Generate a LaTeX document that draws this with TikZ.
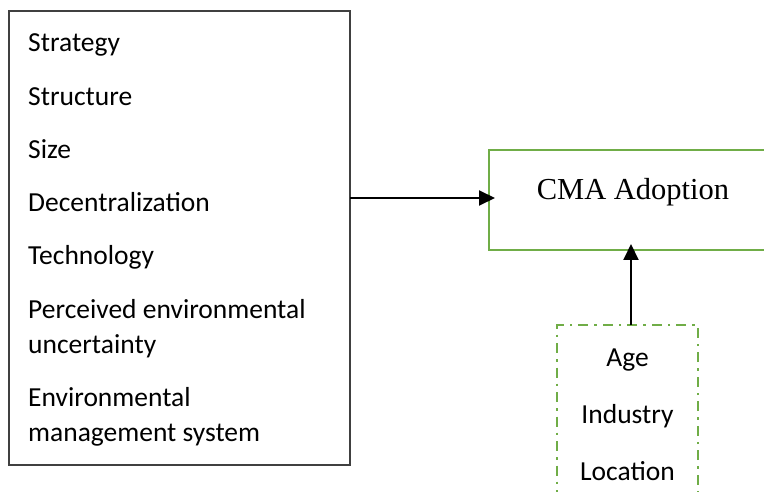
\documentclass[tikz,border=0pt]{standalone}
\usepackage{fontspec}
\setmainfont{Carlito}
\newfontfamily\serifcma{Liberation Serif}
\usepackage{xcolor}
\usepackage{tikz}
\usetikzlibrary{arrows.meta,positioning}
\definecolor{boxgreen}{HTML}{70AD47}

\begin{document}
\begin{tikzpicture}[x=1pt,y=-1pt,
  factorbox/.style={draw=black!75,line width=1.4pt,minimum width=341pt,minimum height=454pt,inner sep=0pt,outer sep=0pt},
  item/.style={anchor=base west,inner sep=0pt,align=left,font=\fontsize{27.5}{35}\selectfont},
  ctrlitem/.style={anchor=base,inner sep=0pt,font=\fontsize{27.5}{35}\selectfont},
  adoptbox/.style={draw=boxgreen,line width=2pt,minimum width=288pt,minimum height=100pt,inner sep=0pt,outer sep=0pt},
  ctrlbox/.style={draw=boxgreen,line width=2pt,dash pattern=on 10pt off 6pt on 2.5pt off 6pt,minimum width=141pt,minimum height=190pt,inner sep=0pt,outer sep=0pt},
  link/.style={line width=2pt,-{Triangle[length=16pt,width=15pt]},shorten >=-6pt}]
\useasboundingbox (0,0) rectangle (764,492);
\clip (0,0) rectangle (764,492);
%%the box of factors on the left
\node[factorbox] (factors) at (179.5,238) {};
\node[item] (strategy) at (28,52) {Strategy};
\node[item] (structure) at (28,106) {Structure};
\node[item] (size) at (28,159) {Size};
\node[item] (decentral) at (28,212) {Decentralization};
\node[item] (technology) at (28,265) {Technology};
%%two-line items sit on the baseline of their last line
\node[item] (peu) at (28,353) {Perceived environmental\\uncertainty};
\node[item] (ems) at (28,441) {Environmental\\management system};
%%the adoption box
\node[adoptbox] (cma) at (633,200) {};
\node[anchor=base,inner sep=0pt,font=\serifcma\fontsize{30.5}{36}\selectfont] (cmatext) at (633,200) {CMA Adoption};
%%the control variables
\node[ctrlbox] (controls) at (627.5,420) {};
\node[ctrlitem] (age) at (627.5,366) {Age};
\node[ctrlitem] (industry) at (627.5,423) {Industry};
\node[ctrlitem] (location) at (627.5,480) {Location};
%%finally the arrows
\draw[link] (factors.east |- 0,198) -- (cma.west |- 0,198);
\draw[link] ([xshift=3.5pt]controls.north) -- ([xshift=3.5pt]controls.north |- cma.south);
\end{tikzpicture}
\end{document}
